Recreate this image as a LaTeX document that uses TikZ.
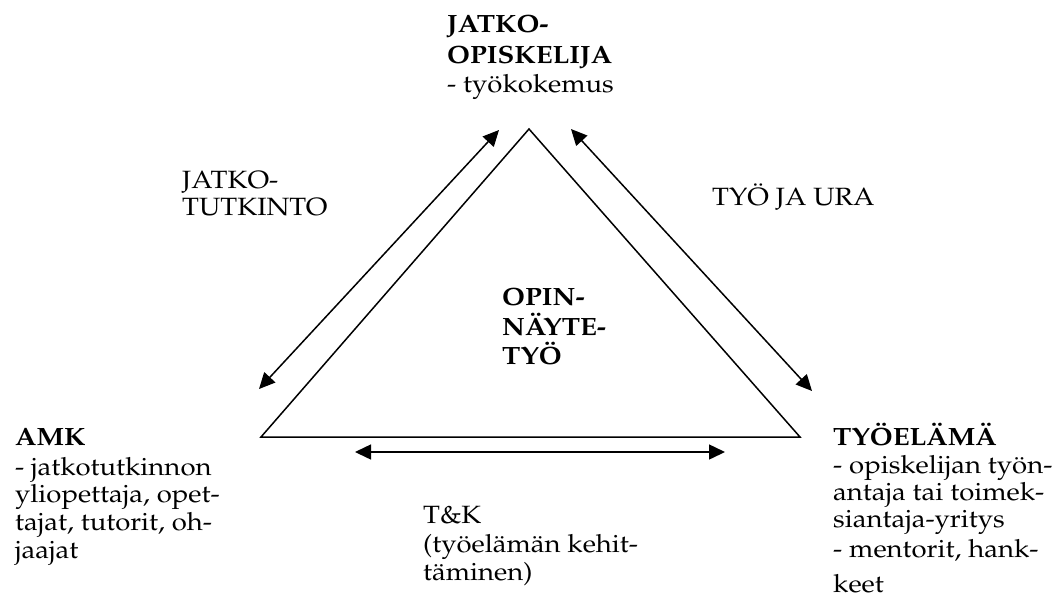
\documentclass[tikz,border=0pt]{standalone}
\usepackage[T1]{fontenc}
\usepackage{graphicx}
\renewcommand{\rmdefault}{ppl}
\usetikzlibrary{arrows.meta}
\newcommand{\wider}[1]{\scalebox{1.1}[1]{#1}}
\tikzset{
  txt/.style={anchor=base west, inner sep=0pt, font=\fontsize{25}{28}\selectfont},
  btxt/.style={txt, font=\fontsize{25}{28}\selectfont\bfseries},
  edge/.style={line width=1.5pt, line join=miter},
  dbl/.style={line width=1.5pt, {Triangle[length=16pt,width=15pt]}-{Triangle[length=16pt,width=15pt]}}
}
\begin{document}
\begin{tikzpicture}[x=1pt,y=-1pt]
\useasboundingbox (0,0) rectangle (1054,603);
% triangle
\coordinate (L) at (261,437);
\coordinate (T) at (529,129);
\coordinate (R) at (800,437);
\draw[edge] (L) -- (T) -- (R) -- cycle;
% arrows
\coordinate (a1) at (259,389);
\coordinate (a2) at (499,130);
\coordinate (b1) at (571,129);
\coordinate (b2) at (812,391);
\coordinate (c1) at (355,452);
\coordinate (c2) at (725,452);
\draw[dbl] (a1) -- (a2);
\draw[dbl] (b1) -- (b2);
\draw[dbl] (c1) -- (c2);
% top
\node[btxt] (t1) at (447,32) {\wider{JATKO-}};
\node[btxt] (t2) at (447,63) {\wider{OPISKELIJA}};
\node[txt] (t3) at (447,92) {\wider{- työkokemus}};
% center
\node[btxt] (m1) at (502,305) {\wider{OPIN-}};
\node[btxt] (m2) at (502,335) {\wider{NÄYTE-}};
\node[btxt] (m3) at (502,364) {\wider{TYÖ}};
% left
\node[btxt] (l1) at (15,445) {\wider{AMK}};
\node[txt] (l2) at (15,475) {\wider{- jatkotutkinnon}};
\node[txt] (l3) at (15,502) {\wider{yliopettaja, opet-}};
\node[txt] (l4) at (15,530) {\wider{tajat, tutorit, oh-}};
\node[txt] (l5) at (15,558) {\wider{jaajat}};
% right
\node[btxt] (r1) at (833,445) {\wider{TYÖELÄMÄ}};
\node[txt] (r2) at (833,473) {\wider{- opiskelijan työn-}};
\node[txt] (r3) at (833,500) {\wider{antaja tai toimek-}};
\node[txt] (r4) at (833,527) {\wider{siantaja-yritys}};
\node[txt] (r5) at (833,557) {\wider{- mentorit, hank-}};
\node[txt] (r6) at (833,592) {\wider{keet}};
% edge labels
\node[txt] (j1) at (182,188) {\wider{JATKO-}};
\node[txt] (j2) at (182,215) {\wider{TUTKINTO}};
\node[txt] (u1) at (712,205) {\wider{TYÖ JA URA}};
\node[txt] (k1) at (423,523) {\wider{T\&K}};
\node[txt] (k2) at (423,552) {\wider{(työelämän kehit-}};
\node[txt] (k3) at (423,580) {\wider{täminen)}};
\end{tikzpicture}
\end{document}
